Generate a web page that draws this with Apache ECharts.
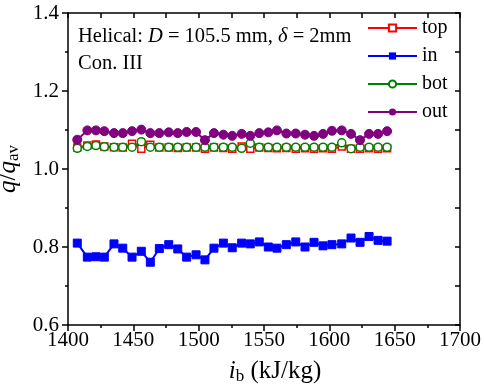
<!DOCTYPE html>
<html>
<head>
<meta charset="utf-8">
<script src="https://cdn.jsdelivr.net/npm/echarts@6/dist/echarts.min.js"></script>
<style>html,body{margin:0;padding:0;background:#fff}#c{width:484px;height:385px}</style>
</head>
<body>
<div id="c"></div>
<script>
const ib = [1407.1, 1414.8, 1421.4, 1427.8, 1435.2, 1441.9, 1449.0, 1456.1, 1463.0, 1469.9, 1477.1, 1484.0, 1490.8, 1498.0, 1504.8, 1511.7, 1518.9, 1525.7, 1532.9, 1539.5, 1546.4, 1553.3, 1559.9, 1567.1, 1574.3, 1581.4, 1588.3, 1595.2, 1602.0, 1609.5, 1616.6, 1623.5, 1630.4, 1637.3, 1644.2];
const qTop = [1.055, 1.060, 1.063, 1.058, 1.056, 1.055, 1.065, 1.052, 1.062, 1.055, 1.055, 1.054, 1.055, 1.055, 1.052, 1.055, 1.054, 1.052, 1.058, 1.052, 1.055, 1.054, 1.053, 1.054, 1.052, 1.053, 1.052, 1.053, 1.052, 1.058, 1.052, 1.052, 1.053, 1.052, 1.053];
const qIn = [0.810, 0.774, 0.775, 0.774, 0.808, 0.797, 0.774, 0.789, 0.761, 0.796, 0.806, 0.795, 0.774, 0.780, 0.767, 0.797, 0.810, 0.798, 0.810, 0.808, 0.813, 0.800, 0.797, 0.806, 0.813, 0.800, 0.812, 0.803, 0.806, 0.808, 0.823, 0.812, 0.827, 0.817, 0.815];
const qBot = [1.053, 1.058, 1.060, 1.057, 1.056, 1.056, 1.056, 1.070, 1.056, 1.056, 1.056, 1.056, 1.056, 1.056, 1.056, 1.056, 1.056, 1.056, 1.053, 1.066, 1.056, 1.056, 1.056, 1.056, 1.056, 1.056, 1.056, 1.056, 1.056, 1.067, 1.052, 1.056, 1.056, 1.056, 1.056];
const qOut = [1.075, 1.099, 1.099, 1.097, 1.092, 1.092, 1.097, 1.101, 1.092, 1.092, 1.094, 1.092, 1.095, 1.095, 1.074, 1.092, 1.088, 1.085, 1.090, 1.085, 1.092, 1.094, 1.099, 1.091, 1.091, 1.088, 1.085, 1.090, 1.098, 1.099, 1.090, 1.074, 1.090, 1.090, 1.097];
const seriesNames = ['top', 'in', 'bot', 'out'];
const xTicks = [1400, 1450, 1500, 1550, 1600, 1650, 1700];
const yTicks = [0.6, 0.8, 1.0, 1.2, 1.4];

const F = 'Liberation Serif, Times New Roman, serif';
const pair = (ys) => ib.map((x, i) => [x, ys[i]]);

const chart = echarts.init(document.getElementById('c'), null, {renderer: 'canvas'});
const axisCommon = {
  axisLine: {show: true, onZero: false, lineStyle: {color: '#000', width: 1.5}},
  splitLine: {show: false},
  minorSplitLine: {show: false}
};
const richTitle = {i: {fontStyle: 'italic', fontFamily: F, fontSize: 25, color: '#000'},
         s: {fontFamily: F, fontSize: 17, color: '#000', padding: [10, 0, 0, 0]}};
chart.setOption({
  animation: false,
  backgroundColor: '#fff',
  grid: {left: 68, right: 24, top: 13, bottom: 60, containLabel: false, outerBoundsMode: 'none'},
  legend: {
    orient: 'vertical', left: 362, top: 13,
    itemWidth: 49, itemHeight: 9, itemGap: 8,
    textStyle: {fontFamily: F, fontSize: 20, color: '#000', lineHeight: 18},
    data: seriesNames
  },
  graphic: [
    {type: 'text', left: 78, top: 26, style: {
      text: 'Helical: {i|D} = 105.5 mm, {i|δ} = 2mm',
      font: '20.5px ' + F, fill: '#000',
      rich: {i: {fontStyle: 'italic', fontFamily: F, fontSize: 20.5, fill: '#000'}}
    }},
    {type: 'text', left: 78, top: 53, style: {text: 'Con. III', font: '20.5px ' + F, fill: '#000'}}
  ],
  xAxis: [
    Object.assign({}, axisCommon, {
      type: 'value', min: 1400, max: 1700, interval: 50, position: 'bottom',
      name: '{i|i}{s|b} (kJ/kg)', nameLocation: 'middle', nameGap: 33,
      nameTextStyle: {fontFamily: F, fontSize: 25, color: '#000', padding: [0, 0, 0, 22], rich: richTitle},
      axisTick: {show: true, inside: false, length: 6, lineStyle: {width: 1.5, color: '#000'}},
      minorTick: {show: true, splitNumber: 2, length: 3, lineStyle: {width: 1.5, color: '#000'}},
      axisLabel: {fontFamily: F, fontSize: 21, color: '#000', margin: 5,
        customValues: xTicks, formatter: v => String(v)}
    }),
    Object.assign({}, axisCommon, {
      type: 'value', min: 1400, max: 1700, interval: 50, position: 'top',
      axisTick: {show: true, inside: true, length: 5, lineStyle: {width: 1.5, color: '#000'}},
      minorTick: {show: true, splitNumber: 2, length: 5, lineStyle: {width: 1.5, color: '#000'}},
      axisLabel: {show: false}
    })
  ],
  yAxis: [
    Object.assign({}, axisCommon, {
      type: 'value', min: 0.6, max: 1.4, interval: 0.2, position: 'left',
      name: '{i|q}/{i|q}{s|av}', nameLocation: 'middle', nameGap: 40,
      nameTextStyle: {fontFamily: F, fontSize: 25, color: '#000', rich: richTitle},
      axisTick: {show: true, inside: false, length: 6, lineStyle: {width: 1.5, color: '#000'}},
      minorTick: {show: true, splitNumber: 2, length: 3, lineStyle: {width: 1.5, color: '#000'}},
      axisLabel: {fontFamily: F, fontSize: 21, color: '#000', margin: 9,
        customValues: yTicks, formatter: v => v.toFixed(1)}
    }),
    Object.assign({}, axisCommon, {
      type: 'value', min: 0.6, max: 1.4, interval: 0.2, position: 'right',
      axisTick: {show: true, inside: true, length: 5, lineStyle: {width: 1.5, color: '#000'}},
      minorTick: {show: true, splitNumber: 2, length: 5, lineStyle: {width: 1.5, color: '#000'}},
      axisLabel: {show: false}
    })
  ],
  series: [
    {name: 'top', type: 'line', data: pair(qTop), symbol: 'rect', symbolSize: 7,
      lineStyle: {color: '#ff0000', width: 2},
      itemStyle: {color: '#ffffff', borderColor: '#ff0000', borderWidth: 1.5}},
    {name: 'in', type: 'line', data: pair(qIn), symbol: 'rect', symbolSize: 8,
      lineStyle: {color: '#0000ff', width: 2},
      itemStyle: {color: '#0000ff', borderColor: '#0000ff'}},
    {name: 'bot', type: 'line', data: pair(qBot), symbol: 'circle', symbolSize: 8,
      lineStyle: {color: '#008000', width: 2},
      itemStyle: {color: '#ffffff', borderColor: '#008000', borderWidth: 1.5}},
    {name: 'out', type: 'line', data: pair(qOut), symbol: 'circle', symbolSize: 9,
      lineStyle: {color: '#800080', width: 2},
      itemStyle: {color: '#800080', borderColor: '#800080'}}
  ]
});
</script>
</body>
</html>
